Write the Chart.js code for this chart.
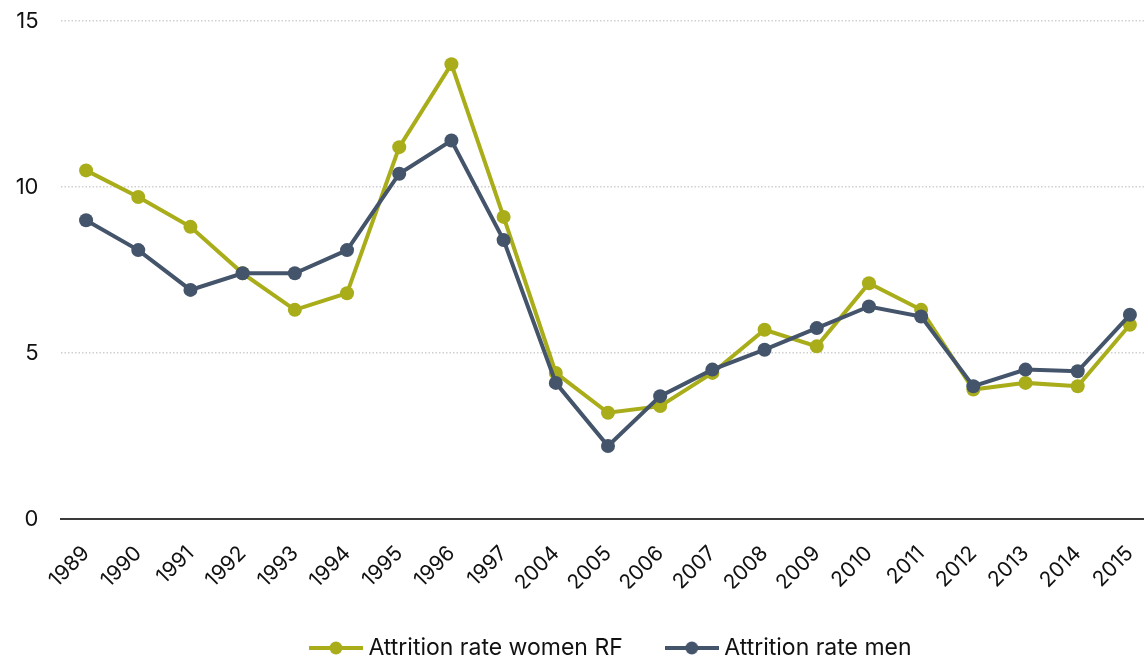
<!DOCTYPE html>
<html>
<head>
<meta charset="utf-8">
<script src="https://cdn.jsdelivr.net/npm/chart.js@4.4.1/dist/chart.umd.min.js"></script>
<style>
  html, body { margin: 0; padding: 0; background: #fff; overflow: hidden; }
  #wrap { width: 1144px; height: 660px; position: relative; }
</style>
</head>
<body>
<div id="wrap"><canvas id="attritionChart"></canvas></div>
<script>
const years = ['1989','1990','1991','1992','1993','1994','1995','1996','1997','2004','2005','2006','2007','2008','2009','2010','2011','2012','2013','2014','2015'];
const women = [10.5, 9.7, 8.8, 7.4, 6.3, 6.8, 11.2, 13.7, 9.1, 4.4, 3.2, 3.4, 4.4, 5.7, 5.2, 7.1, 6.3, 3.9, 4.1, 4.0, 5.85];
const men = [9.0, 8.1, 6.9, 7.4, 7.4, 8.1, 10.4, 11.4, 8.4, 4.1, 2.2, 3.7, 4.5, 5.1, 5.75, 6.4, 6.1, 4.0, 4.5, 4.45, 6.15];
const yTicks = [0, 5, 10, 15];

const OLIVE = '#a9ad19';
const SLATE = '#44546a';
const FONT = "Inter, 'Liberation Sans', sans-serif";

// legend marker: short line with a dot in the middle
function legendIcon(color){
    const c = document.createElement('canvas');
    c.width = 54; c.height = 16;
    const g = c.getContext('2d');
    g.strokeStyle = color;
    g.lineWidth = 4;
    g.beginPath();
    g.moveTo(0, 8); g.lineTo(54, 8);
    g.stroke();
    g.fillStyle = color;
    g.beginPath();
    g.arc(27, 8, 6.5, 0, Math.PI * 2);
    g.fill();
    return c;
}

// nudge the legend a little to the right, like the original
const legendShift = {
    id: 'legendShift',
    afterLayout(chart){
        if(chart.legend){
            chart.legend.left += 11;
            chart.legend.right += 11;
        }
    }
};

document.addEventListener("DOMContentLoaded", function(){

    const ctx = document.getElementById('attritionChart');

    const series = [
        {label: 'Attrition rate women RF', values: women, color: OLIVE, order: 1},
        {label: 'Attrition rate men', values: men, color: SLATE, order: 0}
    ];

    new Chart(ctx, {
        type: 'line',
        plugins: [legendShift],
        data: {
            datasets: series.map(s => ({
                label: s.label,
                data: s.values.map((v, i) => ({x: i, y: v})),
                borderColor: s.color,
                backgroundColor: s.color,
                borderWidth: 4,
                pointRadius: 7,
                pointHoverRadius: 7,
                pointBorderWidth: 0,
                tension: 0,
                order: s.order
            }))
        },
        options: {
            responsive: true,
            maintainAspectRatio: false,
            animation: false,
            layout: { autoPadding: false, padding: { left: 10, top: 21, right: 0, bottom: -9.5 } },
            plugins: {
                tooltip: { enabled: false },
                legend: {
                    position: 'bottom',
                    fullSize: false,
                    labels: {
                        usePointStyle: true,
                        pointStyleWidth: 42,
                        padding: 48,
                        color: '#111',
                        font: { family: FONT, size: 23 },
                        generateLabels: () => series.map((s, i) => ({
                            text: s.label,
                            pointStyle: legendIcon(s.color),
                            fillStyle: s.color,
                            strokeStyle: s.color,
                            lineWidth: 0,
                            fontColor: '#111',
                            hidden: false,
                            datasetIndex: i
                        }))
                    }
                }
            },
            scales: {
                x: {
                    type: 'linear',
                    min: -0.49,
                    max: 20.27,
                    afterBuildTicks: scale => { scale.ticks = years.map((_, i) => ({value: i})); },
                    afterFit: scale => {
                        scale.paddingLeft = 0;
                        scale.paddingRight = 0;
                        scale.height = 69.5;
                    },
                    grid: { display: false, drawTicks: false },
                    border: { display: true, color: '#3a3a3a', width: 2 },
                    ticks: {
                        autoSkip: false,
                        minRotation: 45,
                        maxRotation: 45,
                        padding: 22,
                        color: '#111',
                        font: { family: FONT, size: 21 },
                        callback: v => years[v]
                    }
                },
                y: {
                    min: 0,
                    max: 15,
                    afterBuildTicks: scale => { scale.ticks = yTicks.map(v => ({value: v})); },
                    afterFit: scale => {
                        scale.width = 50.5;
                        scale.paddingTop = 0;
                        scale.paddingBottom = 0;
                    },
                    grid: { color: '#cfcfcf', lineWidth: 1.5, drawTicks: false },
                    border: { display: false, dash: [1.5, 2] },
                    ticks: {
                        padding: 22,
                        color: '#111',
                        font: { family: FONT, size: 22 }
                    }
                }
            }
        }
    });

});
</script>
</body>
</html>
